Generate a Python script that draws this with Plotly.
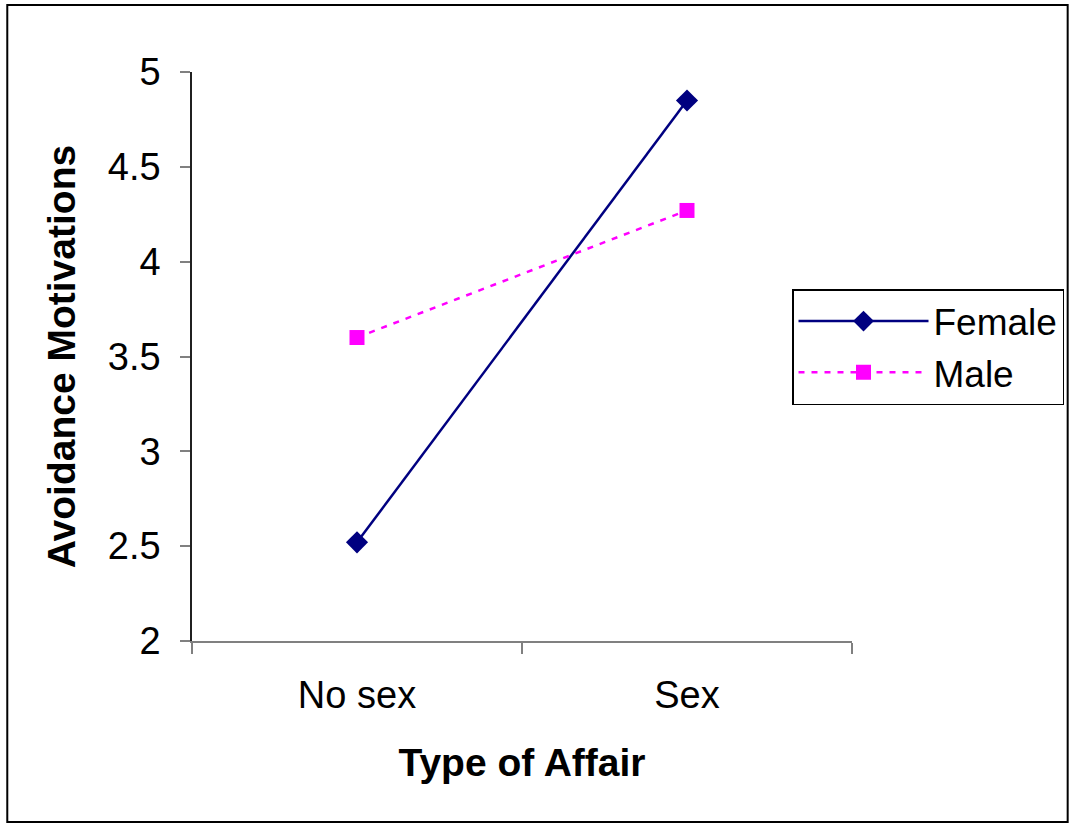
import plotly.graph_objects as go

categories = ["No sex", "Sex"]
female = [2.52, 4.85]
male = [3.60, 4.27]
y_ticks = [2, 2.5, 3, 3.5, 4, 4.5, 5]
y_tick_labels = ["2", "2.5", "3", "3.5", "4", "4.5", "5"]

W, H = 1075, 825
L, R, T, B = 192, 853, 72, 641
pw, ph = R - L, B - T

def px_x(x):
    return (x - L) / pw

def px_y(y):
    return (B - y) / ph

FONT = "Liberation Sans, Arial, sans-serif"

fig = go.Figure()
fig.add_trace(go.Scatter(
    x=categories, y=female, name="Female", mode="lines+markers",
    line=dict(color="#000080", width=2.5),
    marker=dict(symbol="diamond", size=17, color="#000080"),
))
fig.add_trace(go.Scatter(
    x=categories, y=male, name="Male", mode="lines+markers",
    line=dict(color="#FF00FF", width=2.5, dash="6px,7px"),
    marker=dict(symbol="square", size=15, color="#FF00FF"),
))

fig.update_layout(
    width=W, height=H,
    margin=dict(l=L, r=W - R, t=T, b=H - B, pad=0),
    paper_bgcolor="white", plot_bgcolor="white",
    font=dict(family=FONT, size=38, color="black"),
    showlegend=True,
    legend=dict(
        x=px_x(792), y=px_y(289), xanchor="left", yanchor="top",
        bordercolor="black", borderwidth=1.5, bgcolor="white",
        font=dict(family=FONT, size=37, color="black"),
        itemwidth=130, tracegroupgap=0,
    ),
    xaxis=dict(
        type="category", range=[-0.5, 1.5],
        showline=True, linecolor="#808080", linewidth=1.5,
        ticks="outside", tickson="boundaries", ticklen=11, tickcolor="#808080", tickwidth=1.5,
        showgrid=False, zeroline=False,
        tickfont=dict(family=FONT, size=38),
        ticklabelstandoff=20,
        title=dict(text="<b>Type of Affair</b>", font=dict(family=FONT, size=39), standoff=33),
    ),
    yaxis=dict(
        range=[2, 5],
        tickmode="array", tickvals=y_ticks, ticktext=y_tick_labels,
        showline=True, linecolor="#202020", linewidth=1.5,
        ticks="outside", ticklen=10, tickcolor="#808080", tickwidth=1.5,
        showgrid=False, zeroline=False,
        tickfont=dict(family=FONT, size=38),
        ticklabelstandoff=12,
        title=dict(text="<b>Avoidance Motivations</b>", font=dict(family=FONT, size=39), standoff=20),
    ),
    shapes=[dict(
        type="rect", xref="paper", yref="paper",
        x0=px_x(7), x1=px_x(1069), y0=px_y(822), y1=px_y(5),
        line=dict(color="black", width=2), fillcolor="rgba(0,0,0,0)", layer="below",
    )],
)

fig.write_html(
    "out.html",
    config={"displayModeBar": False},
    post_script="document.body.style.margin='0';document.body.style.overflow='hidden';",
)
